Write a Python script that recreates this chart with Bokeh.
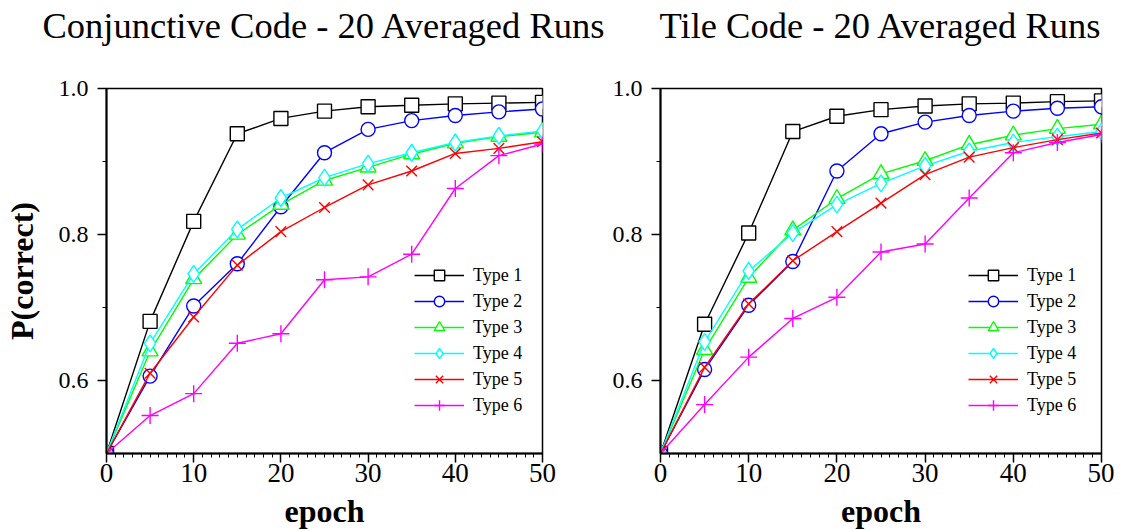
from bokeh.plotting import figure
from bokeh.layouts import row
from bokeh.models import FixedTicker, PrintfTickFormatter, Legend, LinearAxis
from bokeh.embed import file_html
from bokeh.resources import INLINE

epochs = [0, 5, 10, 15, 20, 25, 30, 35, 40, 45, 50]
type_names = ["Type 1", "Type 2", "Type 3", "Type 4", "Type 5", "Type 6"]

conj_type1 = [0.5, 0.681, 0.818, 0.938, 0.959, 0.969, 0.975, 0.977, 0.979, 0.980, 0.981]
conj_type2 = [0.5, 0.606, 0.702, 0.760, 0.838, 0.912, 0.944, 0.956, 0.963, 0.968, 0.972]
conj_type3 = [0.5, 0.640, 0.739, 0.800, 0.841, 0.874, 0.892, 0.910, 0.925, 0.934, 0.940]
conj_type4 = [0.5, 0.651, 0.746, 0.807, 0.850, 0.878, 0.897, 0.912, 0.926, 0.935, 0.942]
conj_type5 = [0.5, 0.610, 0.687, 0.758, 0.804, 0.837, 0.868, 0.887, 0.911, 0.918, 0.927]
conj_type6 = [0.5, 0.552, 0.582, 0.651, 0.664, 0.738, 0.742, 0.773, 0.863, 0.908, 0.924]

tile_type1 = [0.5, 0.677, 0.802, 0.941, 0.962, 0.971, 0.976, 0.979, 0.980, 0.982, 0.983]
tile_type2 = [0.5, 0.615, 0.703, 0.763, 0.887, 0.938, 0.954, 0.963, 0.969, 0.973, 0.975]
tile_type3 = [0.5, 0.642, 0.741, 0.806, 0.849, 0.883, 0.901, 0.923, 0.936, 0.945, 0.951]
tile_type4 = [0.5, 0.653, 0.750, 0.802, 0.841, 0.870, 0.894, 0.914, 0.926, 0.934, 0.941]
tile_type5 = [0.5, 0.618, 0.705, 0.764, 0.804, 0.843, 0.882, 0.906, 0.919, 0.930, 0.939]
tile_type6 = [0.5, 0.567, 0.632, 0.685, 0.714, 0.776, 0.787, 0.850, 0.912, 0.926, 0.937]

x_ticks = [0, 10, 20, 30, 40, 50]
y_ticks = [0.6, 0.8, 1.0]
y_minor = [0.7, 0.9]

colors = ["#000000", "#0000ff", "#00ff00", "#00ffff", "#ff0000", "#ff00ff"]
markers = ["square", "circle", "triangle", "diamond", "x", "cross"]
sizes = [14, 14, 16, 17, 15, 17]

FONT = "Liberation Serif"


def make_panel(title, series, width, left, right, ylabel):
    p = figure(width=width, height=531, x_range=(0, 50), y_range=(0.5, 1.0),
               output_backend="svg", toolbar_location=None,
               min_border_left=left, min_border_right=right,
               min_border_top=87, min_border_bottom=77, title=title)
    p.grid.visible = False
    p.outline_line_color = "black"
    p.outline_line_width = 1.5
    p.outline_line_alpha = 1.0
    p.background_fill_color = "white"
    p.border_fill_color = "white"

    xa = p.below[0]
    ya = p.left[0]

    # invisible spacer between the frame and the title (one hidden tick, empty label)
    spacer = LinearAxis(ticker=FixedTicker(ticks=[25], minor_ticks=[]),
                        major_label_overrides={25: ""},
                        major_label_text_font_size="1px",
                        axis_line_alpha=0,
                        major_tick_out=41, major_tick_in=0,
                        major_tick_line_alpha=0, minor_tick_out=0,
                        minor_tick_line_alpha=0, major_label_standoff=0)
    p.add_layout(spacer, "above")

    p.title.text_font = FONT
    p.title.text_font_size = "36.5px"
    p.title.text_font_style = "normal"
    p.title.text_color = "black"
    p.title.align = "center"
    p.title.standoff = 4

    xa.ticker = FixedTicker(ticks=x_ticks, minor_ticks=list(range(0, 51)))
    ya.ticker = FixedTicker(ticks=y_ticks, minor_ticks=y_minor)
    ya.formatter = PrintfTickFormatter(format="%.1f")
    for ax in (xa, ya):
        ax.axis_line_width = 2
        ax.axis_line_color = "black"
        ax.major_tick_in = 0
        ax.major_tick_out = 9
        ax.minor_tick_in = 0
        ax.minor_tick_out = 4
        ax.major_tick_line_width = 1.5
        ax.minor_tick_line_width = 1
        ax.major_label_text_font = FONT
        ax.major_label_text_color = "black"
        ax.axis_label_text_font = FONT
        ax.axis_label_text_font_style = "bold"
        ax.axis_label_text_font_size = "32px"
        ax.axis_label_text_color = "black"
    xa.major_label_text_font_size = "27px"
    ya.major_label_text_font_size = "24px"
    xa.major_label_standoff = 1
    ya.major_label_standoff = 9
    xa.axis_label = "epoch"
    xa.axis_label_standoff = 8
    if ylabel:
        ya.axis_label = ylabel
        ya.axis_label_standoff = 16

    items = []
    for name, ys, c, m, s in zip(type_names, series, colors, markers, sizes):
        ln = p.line(epochs, ys, line_color=c, line_width=1.4)
        sc = p.scatter(epochs, ys, marker=m, size=s, line_color=c,
                       fill_color="white", line_width=1.4)
        items.append((name, [ln, sc]))
    leg = Legend(items=items, location=(308, 35), padding=0, margin=0,
                 spacing=0, glyph_width=50, glyph_height=26, label_height=26,
                 label_standoff=9, border_line_alpha=0, background_fill_alpha=0,
                 label_text_font=FONT, label_text_font_size="18px",
                 label_text_color="black")
    p.add_layout(leg, "center")
    return p


p1 = make_panel("Conjunctive Code - 20 Averaged Runs",
                [conj_type1, conj_type2, conj_type3, conj_type4, conj_type5, conj_type6],
                608, 101, 66, "P(correct)")
p2 = make_panel("Tile Code - 20 Averaged Runs",
                [tile_type1, tile_type2, tile_type3, tile_type4, tile_type5, tile_type6],
                506, 52, 13, None)

layout = row(p1, p2)
open("out.html", "w").write(file_html(layout, INLINE))
